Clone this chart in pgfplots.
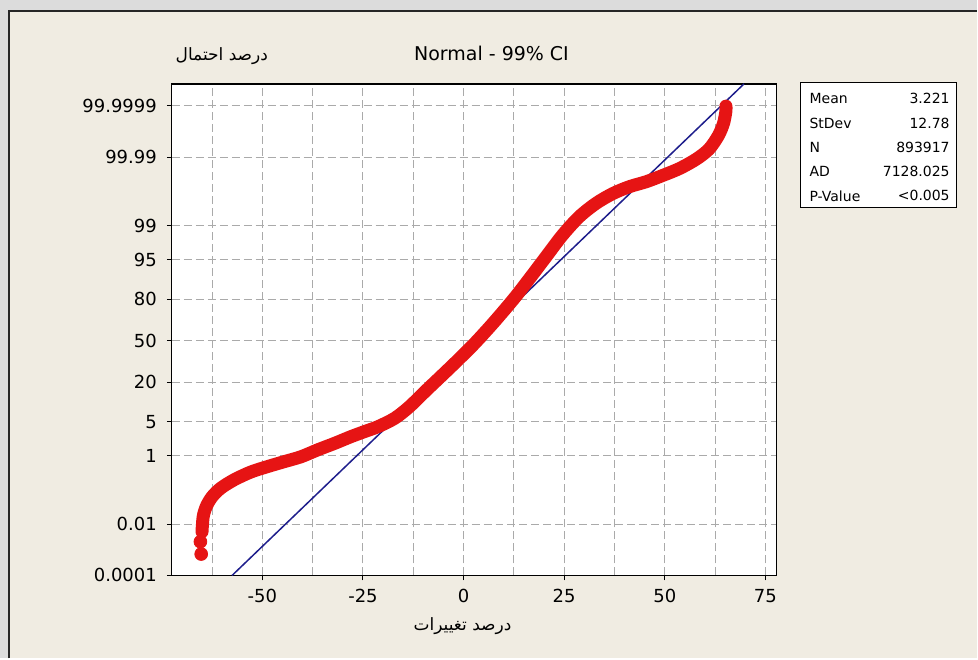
\documentclass[border=0pt]{standalone}
\usepackage{pgfplots}
\pgfplotsset{compat=1.18}
\usepackage{fontspec}
\setmainfont{DejaVu Sans}
\newfontfamily\arabicfont[Script=Arabic]{DejaVu Sans}
\TeXXeTstate=1

\definecolor{outergray}{RGB}{220,220,220}
\definecolor{panel}{RGB}{240,236,226}
\definecolor{ptred}{RGB}{230,20,20}
\definecolor{fitblue}{RGB}{30,30,140}
\definecolor{gridgray}{RGB}{170,170,170}

% probability axis: y = standard normal quantile of the percent
\begin{document}
\begin{tikzpicture}
\begin{scope}[x=0.5pt,y=-0.5pt]
  \fill[outergray] (0,0) rectangle (978,659);
  \fill[panel] (9,11) rectangle (978,659);
  \draw[black!85, line width=1pt] (9,659) -- (9,11) -- (978,11);
\end{scope}

\begin{axis}[
  scale only axis,
  width=302.5pt, height=246pt,
  at={(86pt,-288pt)}, anchor=south west,
  xmin=-72.5, xmax=77.7,
  ymin=-4.753, ymax=5.2,
  axis background/.style={fill=white},
  xtick={-50,-25,0,25,50,75},
  xticklabels={-50,-25,0,25,50,75},
  minor xtick={-62.5,-37.5,-12.5,12.5,37.5,62.5},
  ytick={-4.753,-3.719,-2.326,-1.645,-0.8416,0,0.8416,1.645,2.326,3.719,4.753},
  yticklabels={0.0001,0.01,1,5,20,50,80,95,99,99.99,99.9999},
  xtick pos=bottom, ytick pos=left,
  tick align=outside,
  major tick length=2.5pt, minor tick length=0pt,
  grid=both,
  major grid style={gridgray, dash pattern=on 4pt off 2pt, line width=0.5pt},
  minor grid style={gridgray, dash pattern=on 4pt off 2pt, line width=0.5pt},
  tick style={black, line width=0.5pt},
  axis line style={black, line width=0.6pt},
  tick label style={font=\fontsize{9}{10}\selectfont},
  yticklabel style={xshift=-1.5pt},
  xticklabel style={yshift=-1pt},
]
  % fitted normal line (mean 3.221, sd 12.78)
  \addplot[fitblue, line width=0.75pt] coordinates {(-57.52,-4.753) (69.68,5.2)};

  % separate lowest points
  \addplot[only marks, mark=*, mark size=3.2pt, ptred] coordinates {
    (-65.2,-4.32) (-65.4,-4.07)
  };
  % dense band of data points
  \addplot[ptred, line width=6.5pt, smooth, line cap=round, line join=round] coordinates {
    (-65.0,-3.87) (-64.7,-3.56) (-63.9,-3.35) (-62.5,-3.16) (-60.4,-2.99)
    (-57.1,-2.82) (-52.9,-2.66) (-48.75,-2.55) (-44.6,-2.45) (-40.4,-2.35)
    (-36.25,-2.21) (-32.1,-2.08) (-27.9,-1.94) (-24.6,-1.84) (-21.25,-1.74)
    (-17.1,-1.57) (-13.5,-1.34) (-9.2,-1.00) (-5.2,-0.69) (-1.5,-0.40)
    (2.8,-0.05) (7.6,0.38) (12.6,0.86) (16.5,1.27) (20.4,1.69)
    (24.6,2.14) (28.75,2.51) (32.9,2.78) (37.1,2.98) (41.25,3.12)
    (45.4,3.22) (49.6,3.35) (53.75,3.49) (57.9,3.68) (61.0,3.88)
    (63.3,4.15) (64.6,4.40) (65.2,4.65) (65.2,4.75)
  };
\end{axis}

\begin{scope}[x=0.5pt,y=-0.5pt]
  \node[font=\fontsize{9.5}{11}\selectfont] at (492,53) {Normal - 99\% CI};
  \node[font=\fontsize{8.5}{10}\selectfont] at (222,56) {\arabicfont\beginR درصد احتمال\endR};
  \node[font=\fontsize{8.5}{10}\selectfont] at (463,627) {\arabicfont\beginR درصد تغییرات\endR};

  % statistics box
  \draw[black, fill=white, line width=0.5pt] (801,83) rectangle (957,208);
  \begin{scope}[every node/.style={font=\fontsize{7}{8}\selectfont, inner sep=0pt}]
    \node[anchor=west] at (810,99) {Mean};
    \node[anchor=west] at (810,124) {StDev};
    \node[anchor=west] at (810,148) {N};
    \node[anchor=west] at (810,172) {AD};
    \node[anchor=west] at (810,196) {P-Value};
    \node[anchor=east] at (951,99) {3.221};
    \node[anchor=east] at (951,124) {12.78};
    \node[anchor=east] at (951,148) {893917};
    \node[anchor=east] at (951,172) {7128.025};
    \node[anchor=east] at (951,196) {<0.005};
  \end{scope}
\end{scope}
\end{tikzpicture}
\end{document}
